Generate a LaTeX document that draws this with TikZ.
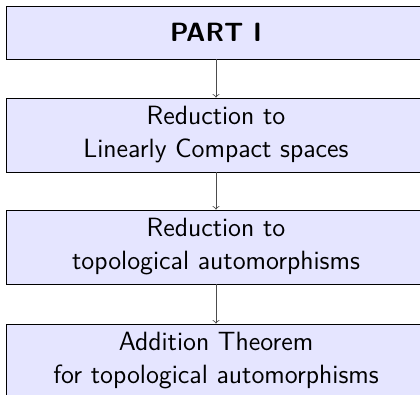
\documentclass[tikz,border=0pt]{standalone}
\usepackage{tikz}
\usetikzlibrary{arrows,positioning}
\definecolor{lavande}{rgb}{0.9,0.9,1}

\begin{document}
\begin{tikzpicture}[
  etape/.style={rectangle,draw,fill=lavande,align=center,minimum width=210pt,
    font=\fontsize{13.2}{16.5}\selectfont\sffamily}]
\clip (0,0) rectangle (210pt,-197.5pt);
\begin{scope}[x=0.5pt,y=-0.5pt]
% les quatre etapes
\node (PI) at (216,32.5) [etape,minimum height=26.5pt] {\textbf{PART I}};
\node (RLC) at (216,135) [etape,minimum height=37pt] {Reduction to\\Linearly Compact spaces};
\node (RTA) at (216,247) [etape,minimum height=37pt] {Reduction to\\topological automorphisms};
\node (ATA) at (216,361) [etape,minimum height=37pt] {Addition Theorem\\for topological automorphisms};

% fleches entre les etapes
\draw[->,black!70] (PI) -- (RLC);
\draw[->,black!70] (RLC) -- (RTA);
\draw[->,black!70] (RTA) -- (ATA);
\end{scope}
\end{tikzpicture}
\end{document}
